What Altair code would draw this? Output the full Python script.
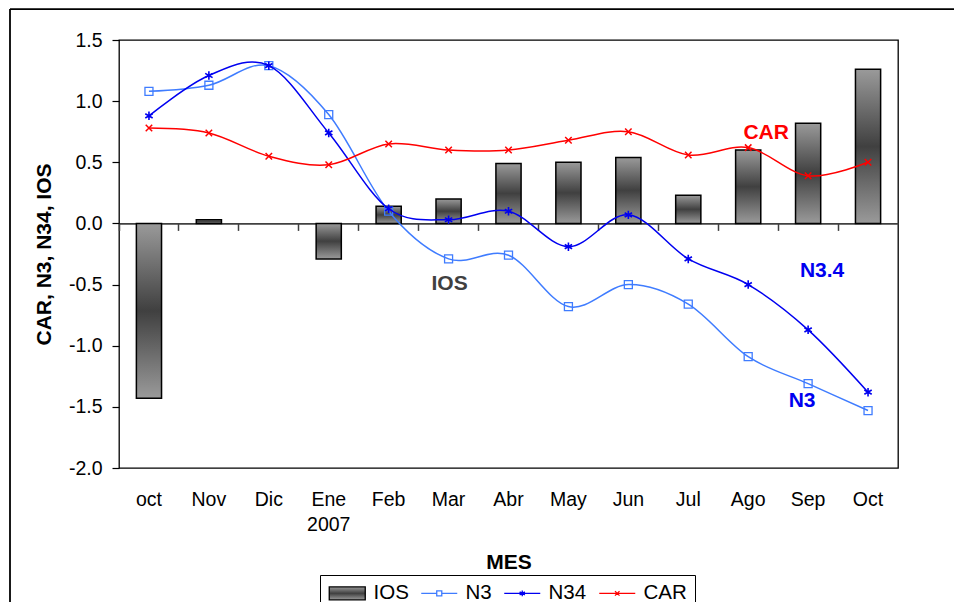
import altair as alt
import pandas as pd

# ---------------- data ----------------
months = ["oct", "Nov", "Dic", "Ene", "Feb", "Mar", "Abr", "May", "Jun", "Jul", "Ago", "Sep", "Oct"]
ios = [-1.43, 0.03, None, -0.29, 0.14, 0.20, 0.49, 0.50, 0.54, 0.23, 0.60, 0.82, 1.26]
n3 = [1.08, 1.13, 1.29, 0.89, 0.10, -0.29, -0.26, -0.68, -0.50, -0.66, -1.09, -1.31, -1.53]
n34 = [0.88, 1.21, 1.29, 0.74, 0.12, 0.03, 0.10, -0.19, 0.07, -0.29, -0.50, -0.87, -1.38]
car = [0.78, 0.74, 0.55, 0.48, 0.65, 0.60, 0.60, 0.68, 0.75, 0.56, 0.62, 0.39, 0.50]
series_names = ["IOS", "N3", "N34", "CAR"]
y_ticks = [-2.0, -1.5, -1.0, -0.5, 0.0, 0.5, 1.0, 1.5]

ann_label = ["IOS", "CAR", "N3.4", "N3"]
ann_month = ["Mar", "Ago", "Sep", "Sep"]
ann_value = [-0.495, 0.737, -0.389, -1.455]

rows = []
for name, vals in zip(series_names, [ios, n3, n34, car]):
    for m, v in zip(months, vals):
        rows.append({"mes": m, "serie": name, "valor": v})
df = pd.DataFrame(rows)
ann_df = pd.DataFrame({"label": ann_label, "mes": ann_month, "valor": ann_value})
frame_df = pd.DataFrame({"k": [0]})

FONT = "Liberation Sans"
W, H = 779, 428
C_N3 = "#3F7CFF"
C_N34 = "#0000F0"
C_CAR = "#FF0000"

xsc = alt.Scale(domain=months, paddingInner=0, paddingOuter=0)
ysc = alt.Scale(domain=[-2.0, 1.5], nice=False, zero=False)

yaxis = alt.Axis(
    values=y_ticks, format=".1f", labelExpr="replace(datum.label, '\u2212', '-')",
    domain=False, ticks=True, tickSize=7, tickColor="black", tickWidth=1.2,
    labelPadding=10, labelFont=FONT, labelFontSize=19.5, labelColor="black",
    title="CAR, N3, N34, IOS", titleFont=FONT, titleFontSize=21, titleFontWeight="bold",
    titleColor="black", titleX=-69, titleBaseline="alphabetic", grid=False,
)
xaxis_main = alt.Axis(
    orient="bottom", domain=False, ticks=False, tickSize=0, labelPadding=22,
    labelFont=FONT, labelFontSize=19.5, labelColor="black", labelAngle=0,
    labelExpr="datum.label == 'Ene' ? ['Ene', '2007'] : datum.label", labelLineHeight=25,
    title="MES", titleFont=FONT, titleFontSize=21, titleFontWeight="bold", titleColor="black",
    titleY=100, titleBaseline="alphabetic", grid=False,
)
xaxis_zero = alt.Axis(
    orient="bottom", offset=-244.6, domain=True, domainColor="#404040", domainWidth=1.6,
    ticks=True, tickColor="#404040", tickWidth=1.5, tickSize=7, bandPosition=0,
    labels=False, title=None, grid=False, zindex=0,
)


def X(axis=None):
    return alt.X("mes:N", sort=months, scale=xsc, axis=axis)


def Y():
    return alt.Y("valor:Q", scale=ysc, axis=yaxis)


grad = alt.Gradient(
    gradient="linear", x1=0, y1=0, x2=0, y2=1,
    stops=[alt.GradientStop(color="#9a9a9a", offset=0),
           alt.GradientStop(color="#404040", offset=0.5),
           alt.GradientStop(color="#9a9a9a", offset=1)],
)

bars = alt.Chart(df).transform_filter(
    "datum.serie == 'IOS' && isValid(datum.valor)"
).mark_bar(fill=grad, stroke="black", strokeWidth=1.5, width=alt.RelativeBandSize(0.42)).encode(
    x=X(xaxis_main), y=Y()
)

zero_axis = alt.Chart(df).transform_filter("datum.serie == 'IOS'").mark_point(opacity=0).encode(
    x=X(xaxis_zero), y=Y()
)

P_ASTER = "M0,-1V1M-0.87,-0.5L0.87,0.5M-0.87,0.5L0.87,-0.5"
P_X = "M-1,-1L1,1M-1,1L1,-1"


def line_layer(name, color, shape, size, sw):
    return alt.Chart(df).transform_filter(f"datum.serie == '{name}'").mark_line(
        color=color, strokeWidth=1.5, interpolate="cardinal",
        point=alt.OverlayMarkDef(shape=shape, filled=False, size=size, color=color,
                                 strokeWidth=sw, opacity=1),
    ).encode(x=X(), y=Y())


l_n3 = line_layer("N3", C_N3, "square", 64, 1.3)
l_n34 = line_layer("N34", C_N34, P_ASTER, 72, 1.6)
l_car = line_layer("CAR", C_CAR, P_X, 42, 1.5)


def ann_layer(label, color, dx):
    return alt.Chart(ann_df).transform_filter(f"datum.label == '{label}'").mark_text(
        font=FONT, fontSize=21, fontWeight="bold", color=color, dx=dx,
        align="center", baseline="middle",
    ).encode(x=X(), y=Y(), text="label:N")


a_ios = ann_layer("IOS", "#404040", 1)
a_car = ann_layer("CAR", C_CAR, 18)
a_n34 = ann_layer("N3.4", C_N34, 14)
a_n3 = ann_layer("N3", C_N34, -6)

# legend symbols (unit = 9 px; symbol spans x -1..3 units)
legend_paths = [
    "M-1,-0.72H3V0.72H-1Z",
    "M-1,0H0.72M1.28,0H3M0.72,-0.28H1.28V0.28H0.72Z",
    "M-1,0H3M1,-0.33V0.33M0.71,-0.17L1.29,0.17M0.71,0.17L1.29,-0.17",
    "M-1,0H3M0.75,-0.25L1.25,0.25M0.75,0.25L1.25,-0.25",
]
legend_strokes = ["#000000", C_N3, C_N34, C_CAR]
legend_fills = ["url(#gradient_0)", "transparent", "transparent", "transparent"]

legend = alt.Legend(
    orient="none", legendX=201, legendY=535, direction="horizontal", title=None,
    strokeColor="black", fillColor="white", padding=8,
    labelFont=FONT, labelFontSize=20.5, labelColor="black", labelOffset=25,
    columnPadding=9, symbolSize=324, symbolStrokeWidth=1.3, symbolOpacity=1,
)
legend_layer = alt.Chart(df).transform_filter("false").mark_point(filled=True, opacity=1).encode(
    x=X(), y=Y(),
    shape=alt.Shape("serie:N", scale=alt.Scale(domain=series_names, range=legend_paths), legend=legend),
    stroke=alt.Stroke("serie:N", scale=alt.Scale(domain=series_names, range=legend_strokes), legend=legend),
    fill=alt.Fill("serie:N", scale=alt.Scale(domain=series_names, range=legend_fills), legend=legend),
)

frame_top = alt.Chart(frame_df).mark_rule(color="black", strokeWidth=1.8).encode(
    x=alt.value(-109), x2=alt.value(900), y=alt.value(-30.8)
)
frame_left = alt.Chart(frame_df).mark_rule(color="black", strokeWidth=1.8).encode(
    x=alt.value(-109), y=alt.value(-31), y2=alt.value(600)
)

chart = alt.layer(
    frame_top, frame_left, zero_axis, bars, l_n3, l_n34, l_car,
    a_ios, a_car, a_n34, a_n3, legend_layer,
).resolve_axis(x="independent").properties(
    width=W, height=H,
    autosize=alt.AutoSizeParams(type="none"),
    padding={"left": 111, "top": 32, "right": 56, "bottom": 134},
    background="white",
).configure_view(stroke="black", strokeWidth=1.3)

chart.save("out.html", embed_options={"renderer": "svg", "actions": False})
